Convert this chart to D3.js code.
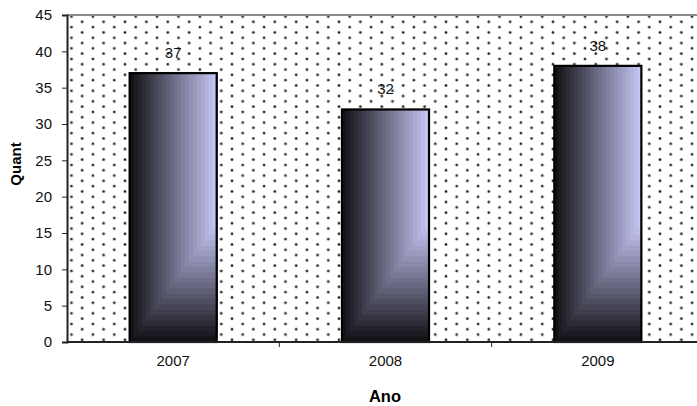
<!DOCTYPE html>
<html><head><meta charset="utf-8">
<script src="https://cdn.jsdelivr.net/npm/d3@7/dist/d3.min.js"></script>
<style>html,body{margin:0;padding:0;background:#fff;}svg{display:block;font-family:"Liberation Sans",Arial,sans-serif;}</style>
</head><body><svg id="c" width="697" height="406"></svg>
<script>
const categories = ["2007", "2008", "2009"];
const values = [37, 32, 38];
const yTicks = [0, 5, 10, 15, 20, 25, 30, 35, 40, 45];
const xTitle = "Ano";
const yTitle = "Quant";

const W = 697, H = 406;
const m = {left: 67, top: 15, bottom: 342, right: 704};
const svg = d3.select("#c");

const x = d3.scaleBand().domain(categories).range([m.left, m.right]).paddingInner(0.59).paddingOuter(0.295);
const band = (m.right - m.left) / categories.length;
const y = d3.scaleLinear().domain([0, 45]).range([m.bottom, m.top]);

const defs = svg.append("defs");
const pat = defs.append("pattern").attr("id", "dots").attr("patternUnits", "userSpaceOnUse")
  .attr("width", 21.4).attr("height", 10.6).attr("x", m.left + 4.5).attr("y", m.top + 1.5);
pat.append("rect").attr("width", 21.4).attr("height", 10.6).attr("fill", "#fff");
[[0, 0], [10.7, 5.3], [21.4, 0], [0, 10.6], [21.4, 10.6]].forEach(([cx, cy]) => {
  pat.append("circle").attr("cx", cx).attr("cy", cy).attr("r", 1.5).attr("fill", "#666");
  pat.append("circle").attr("cx", cx).attr("cy", cy).attr("r", 0.9).attr("fill", "#111");
});

// plot background
svg.append("rect").attr("x", m.left).attr("y", m.top).attr("width", m.right - m.left).attr("height", m.bottom - m.top).attr("fill", "url(#dots)");
svg.append("line").attr("x1", m.left).attr("x2", m.right).attr("y1", m.top).attr("y2", m.top).attr("stroke", "#8a8a8a").attr("stroke-width", 2);

// bars with corner gradient (banded)
const col = d3.interpolateRgb("#0e0e12", "#c8c8f8");
const N = 22;
const g = svg.append("g");
categories.forEach((c, i) => {
  const x0 = x(c), w = x.bandwidth(), y0 = y(values[i]), yb = y(0);
  const bg = g.append("g");
  for (let k = 0; k < N; k++) {
    const f = k / N;
    const yBottom = Math.max(y0, yb - w * f * 1.35);
    bg.append("rect").attr("x", x0 + w * f).attr("y", y0).attr("width", w * (1 - f) + 0.5).attr("height", yBottom - y0)
      .attr("fill", col((k + 0.5) / N));
  }
  bg.append("rect").attr("x", x0).attr("y", y0).attr("width", w).attr("height", yb - y0)
    .attr("fill", "none").attr("stroke", "#000").attr("stroke-width", 2.2);
  svg.append("text").attr("x", x0 + w / 2).attr("y", y0 - 15).attr("text-anchor", "middle")
    .attr("font-size", 15).attr("fill", "#111").text(values[i]);
});

// y axis
const ya = svg.append("g").attr("transform", `translate(${m.left},0)`)
  .call(d3.axisLeft(y).tickValues(yTicks).tickSize(5).tickPadding(10));
ya.select(".domain").attr("stroke", "#222").attr("stroke-width", 2);
ya.selectAll(".tick line").attr("stroke", "#222");
ya.selectAll("text").attr("font-size", 15).attr("font-family", "Liberation Sans, Arial, sans-serif").attr("fill", "#111");

// x axis
svg.append("line").attr("x1", m.left).attr("x2", m.right).attr("y1", m.bottom).attr("y2", m.bottom).attr("stroke", "#222").attr("stroke-width", 2);
svg.selectAll(".xt").data(d3.range(1, categories.length + 1)).enter().append("line")
  .attr("x1", d => m.left + d * band).attr("x2", d => m.left + d * band)
  .attr("y1", m.bottom).attr("y2", m.bottom + 5).attr("stroke", "#222");
svg.selectAll(".xl").data(categories).enter().append("text")
  .attr("x", d => x(d) + x.bandwidth() / 2).attr("y", 366).attr("text-anchor", "middle")
  .attr("font-size", 15).attr("fill", "#111").text(d => d);

svg.append("text").attr("x", 385).attr("y", 402).attr("text-anchor", "middle")
  .attr("font-size", 16.5).attr("font-weight", "bold").attr("fill", "#000").text(xTitle);
svg.append("text").attr("transform", "translate(21,164) rotate(-90)").attr("text-anchor", "middle")
  .attr("font-size", 15).attr("font-weight", "bold").attr("fill", "#000").text(yTitle);
</script></body></html>
